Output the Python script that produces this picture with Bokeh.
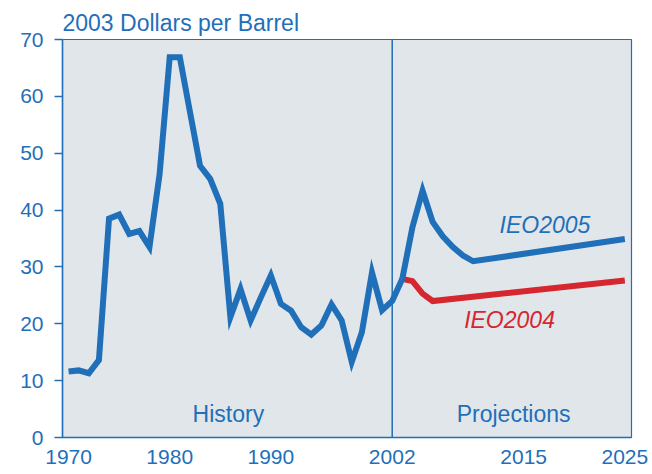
from bokeh.plotting import figure
from bokeh.models import Range1d, FixedTicker, Span, Label
from bokeh.embed import file_html
from bokeh.resources import INLINE

# ---- data ----
hist_years = list(range(1970, 2004))
hist_price = [11.6, 11.8, 11.3, 13.6, 38.5, 39.2, 35.8, 36.3, 33.5, 46.3,
              66.9, 66.9, 57.3, 47.8, 45.5, 41.1, 21.2, 26.1, 20.6, 24.6,
              28.5, 23.5, 22.3, 19.4, 18.1, 19.7, 23.4, 20.6, 13.3, 18.5,
              29.0, 22.4, 24.0, 27.9]

ieo2005_years = [2003, 2004, 2005, 2006, 2007, 2008, 2009, 2010, 2025]
ieo2005_price = [27.9, 37.0, 43.4, 37.9, 35.4, 33.5, 32.0, 31.0, 34.9]

ieo2004_years = [2003, 2004, 2005, 2006, 2025]
ieo2004_price = [27.9, 27.5, 25.3, 24.0, 27.6]

x_ticks = [1970, 1980, 1990, 2002, 2015, 2025]
y_ticks = [0, 10, 20, 30, 40, 50, 60, 70]

BLUE = "#1f6fb9"
RED = "#d6262f"
BG = "#e1e6eb"
FONT = "Liberation Sans"

p = figure(width=652, height=474, output_backend="svg", toolbar_location=None,
           x_range=Range1d(1969.4, 2025.66), y_range=Range1d(0, 70),
           min_border_left=62, min_border_right=21, min_border_top=39,
           min_border_bottom=37)

p.background_fill_color = BG
p.border_fill_color = "white"
p.outline_line_color = BLUE
p.outline_line_width = 1.2
p.grid.visible = False

p.title.text = "2003 Dollars per Barrel"
p.title.text_font = FONT
p.title.text_font_size = "23px"
p.title.text_font_style = "normal"
p.title.text_color = BLUE
p.title.align = "left"
p.title.offset = 0
p.title.standoff = 8

# y axis
p.yaxis.ticker = FixedTicker(ticks=y_ticks)
p.yaxis.minor_tick_line_color = None
p.yaxis.major_tick_in = 0
p.yaxis.major_tick_out = 8
p.yaxis.major_tick_line_color = BLUE
p.yaxis.major_tick_line_width = 1.5
p.yaxis.axis_line_color = BLUE
p.yaxis.axis_line_width = 1.5
p.yaxis.major_label_text_color = BLUE
p.yaxis.major_label_text_font = FONT
p.yaxis.major_label_text_font_size = "21px"
p.yaxis.major_label_standoff = 11

# x axis
p.xaxis.ticker = FixedTicker(ticks=x_ticks)
p.xaxis.minor_tick_line_color = None
p.xaxis.major_tick_line_color = None
p.xaxis.major_tick_in = 0
p.xaxis.major_tick_out = 0
p.xaxis.axis_line_color = BLUE
p.xaxis.axis_line_width = 1.5
p.xaxis.major_label_text_color = BLUE
p.xaxis.major_label_text_font = FONT
p.xaxis.major_label_text_font_size = "21px"
p.xaxis.major_label_standoff = 12

# divider between history and projections
p.add_layout(Span(location=2002, dimension="height", line_color=BLUE, line_width=1.5))

# lines
p.line(ieo2004_years, ieo2004_price, line_color=RED, line_width=6, line_join="miter")
p.line(hist_years, hist_price, line_color=BLUE, line_width=6, line_join="miter")
p.line(ieo2005_years, ieo2005_price, line_color=BLUE, line_width=6, line_join="miter")

# annotations
p.add_layout(Label(x=1985.8, y=4.2, text="History", text_align="center",
                   text_baseline="middle", text_color=BLUE, text_font=FONT,
                   text_font_size="23px"))
p.add_layout(Label(x=2014.0, y=4.2, text="Projections", text_align="center",
                   text_baseline="middle", text_color=BLUE, text_font=FONT,
                   text_font_size="23px"))
p.add_layout(Label(x=2017.1, y=37.3, text="IEO2005", text_align="center",
                   text_baseline="middle", text_color=BLUE, text_font=FONT,
                   text_font_size="23px", text_font_style="italic"))
p.add_layout(Label(x=2013.6, y=20.6, text="IEO2004", text_align="center",
                   text_baseline="middle", text_color=RED, text_font=FONT,
                   text_font_size="23px", text_font_style="italic"))

open("out.html", "w").write(file_html(p, INLINE))
